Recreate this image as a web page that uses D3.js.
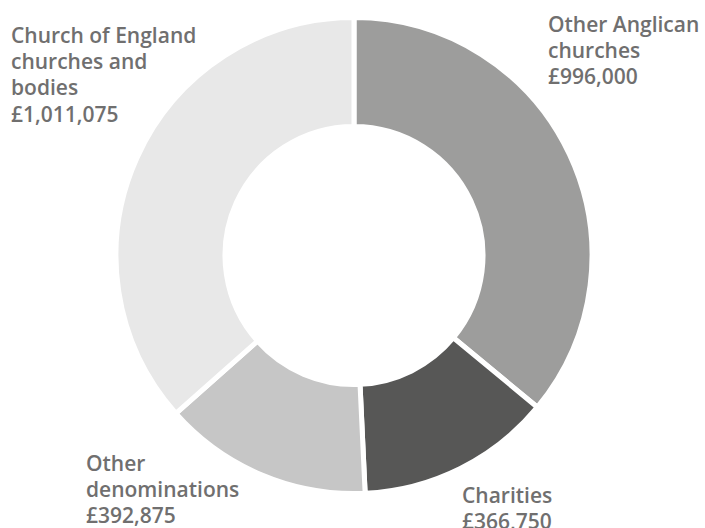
<!DOCTYPE html>
<html>
<head>
<meta charset="utf-8">
<script src="https://cdn.jsdelivr.net/npm/d3@7"></script>
<style>
  body { margin: 0; background: #fff; }
  svg { display: block; }
  .lbl { font-family: "Open Sans", sans-serif; font-weight: 600; font-size: 21px; fill: #706f6f; }
</style>
</head>
<body>
<svg width="705" height="528"></svg>
<script>
// data, clockwise from 12 o'clock
var names = [
  ["Other Anglican", "churches"],
  ["Charities"],
  ["Other", "denominations"],
  ["Church of England", "churches and", "bodies"]
];
var amounts = [996000, 366750, 392875, 1011075];
var colours = ["#9d9d9c", "#575756", "#c6c6c6", "#e8e8e8"];

// where each label block starts (x, first baseline)
var labelAt = [[548, 32], [462, 503], [86, 471], [11, 43]];

var width = 705, height = 528;
var cx = 354, cy = 255.5;
var rOuter = 238, rInner = 129;

var svg = d3.select("svg");
var g = svg.append("g").attr("transform", `translate(${cx},${cy})`);

var pie = d3.pie().sort(null).value(d => d);
var arc = d3.arc().innerRadius(rInner).outerRadius(rOuter);

g.selectAll("path.slice")
  .data(pie(amounts))
  .enter()
  .append("path")
    .attr("class", "slice")
    .attr("d", arc)
    .style("fill", (d, i) => colours[i])
    .style("stroke", "#fff")
    .style("stroke-width", 5)
    .style("stroke-linejoin", "miter");

var fmt = d3.format(",");
var lineH = 26.2;

svg.selectAll("text.lbl")
  .data(names)
  .enter()
  .append("text")
    .attr("class", "lbl")
    .each(function(d, i) {
      var t = d3.select(this);
      var lines = d.concat(["£" + fmt(amounts[i])]);
      lines.forEach(function(s, j) {
        t.append("tspan")
          .attr("x", labelAt[i][0])
          .attr("y", labelAt[i][1] + j * lineH)
          .text(s);
      });
    });
</script>
</body>
</html>
